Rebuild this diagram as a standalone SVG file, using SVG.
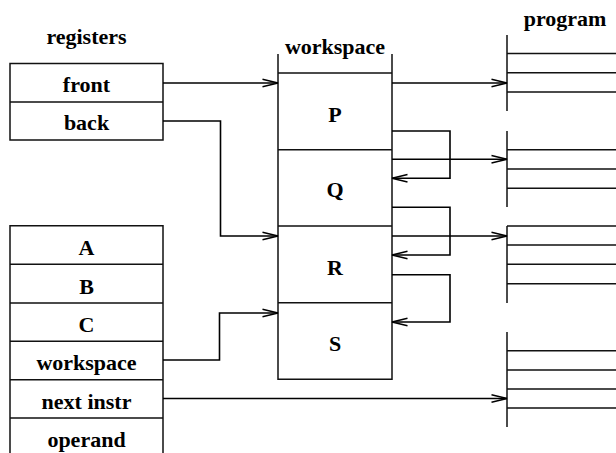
<svg xmlns="http://www.w3.org/2000/svg" width="616" height="453" viewBox="0 0 616 453">
<defs>
<style>
.ln{fill:none;stroke:#111;stroke-width:1.5}
.cn{fill:none;stroke:#000;stroke-width:1.6}
.t{font-family:"Liberation Serif","Times New Roman",serif;font-weight:bold;font-size:22px;fill:#000;text-anchor:middle}
</style>
<marker id="ah" markerUnits="userSpaceOnUse" markerWidth="18" markerHeight="10" viewBox="0 0 18 10" refX="16.5" refY="5" orient="auto">
<path d="M1,1.3 L16.5,5 L1,8.7" fill="none" stroke="#000" stroke-width="1.5"/>
</marker>
</defs>
<rect width="616" height="453" fill="#fff"/>

<g id="registers">
<text class="t" x="86.5" y="44">registers</text>
<path class="ln" d="M10,63.5 H163 V140 H10 Z M10,102 H163"/>
<text class="t" x="86.5" y="92">front</text>
<text class="t" x="86.5" y="130">back</text>
</g>

<g id="reglist">
<path class="ln" d="M10,453 V225.7 H163 V453 M10,264.3 H163 M10,303 H163 M10,341.3 H163 M10,379.7 H163 M10,418 H163"/>
<text class="t" x="86.5" y="255">A</text>
<text class="t" x="86.5" y="293.5">B</text>
<text class="t" x="86.5" y="332">C</text>
<text class="t" x="86.5" y="370.3">workspace</text>
<text class="t" x="86.5" y="408.7">next instr</text>
<text class="t" x="86.5" y="447">operand</text>
</g>

<g id="workspace">
<text class="t" x="335" y="54">workspace</text>
<path class="ln" d="M278,54 V379.3 H392 V54 M278,73 H392 M278,149.7 H392 M278,226 H392 M278,302.7 H392"/>
<text class="t" x="335" y="121.5">P</text>
<text class="t" x="335" y="197">Q</text>
<text class="t" x="335" y="275">R</text>
<text class="t" x="335" y="351">S</text>
</g>

<g id="program">
<text class="t" x="565" y="26">program</text>
<path class="ln" d="M507,35 V111 M507,53.5 H616 M507,72.7 H616 M507,92 H616"/>
<path class="ln" d="M507,131 V207 M507,149.7 H616 M507,169 H616 M507,188.3 H616"/>
<path class="ln" d="M507,226 V303 M507,226 H616 M507,245 H616 M507,264.3 H616 M507,283.7 H616"/>
<path class="ln" d="M507,332 V427 M507,350.7 H616 M507,370 H616 M507,389 H616 M507,408 H616"/>
</g>

<g id="connectors">
<path class="cn" d="M163,83 H278" marker-end="url(#ah)"/>
<path class="cn" d="M163,121 H220.5 V236 H278" marker-end="url(#ah)"/>
<path class="cn" d="M163,360 H219.5 V313 H278" marker-end="url(#ah)"/>
<path class="cn" d="M163,398.5 H507" marker-end="url(#ah)"/>
<path class="cn" d="M392,83 H507" marker-end="url(#ah)"/>
<path class="cn" d="M392,131 H450 V178.3 H392" marker-end="url(#ah)"/>
<path class="cn" d="M392,159.3 H507" marker-end="url(#ah)"/>
<path class="cn" d="M392,207.3 H450 V255 H392" marker-end="url(#ah)"/>
<path class="cn" d="M392,236 H507" marker-end="url(#ah)"/>
<path class="cn" d="M392,274.7 H450 V322 H392" marker-end="url(#ah)"/>
</g>
</svg>
